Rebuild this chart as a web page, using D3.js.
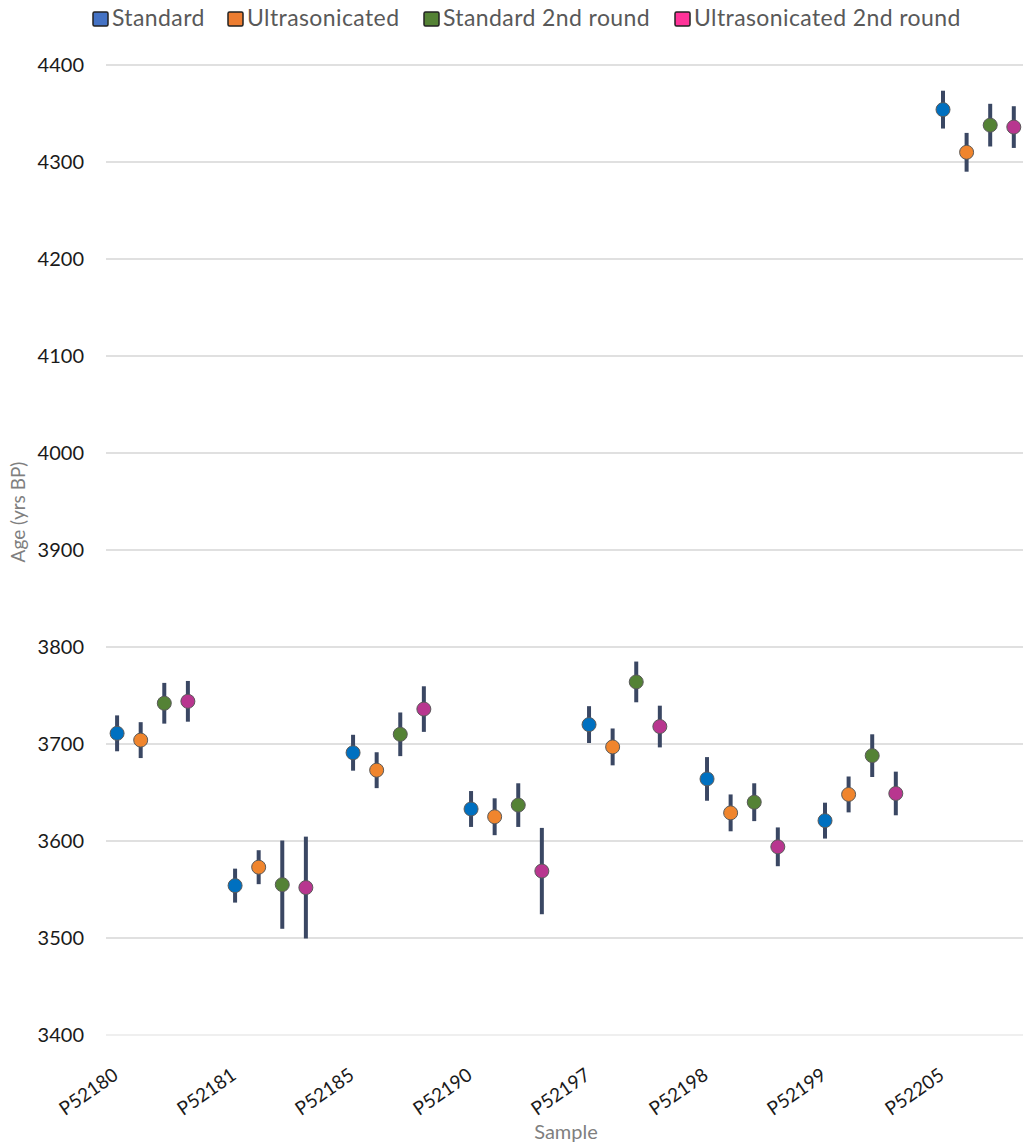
<!DOCTYPE html>
<html>
<head>
<meta charset="utf-8">
<script src="https://cdn.jsdelivr.net/npm/d3@7"></script>
<style>
  body { margin: 0; background: #fff; }
  svg { display: block; font-family: Lato, "Open Sans", sans-serif; }
</style>
</head>
<body>
<div id="chart"></div>
<script>
// data
const samples = ['P52180', 'P52181', 'P52185', 'P52190', 'P52197', 'P52198', 'P52199', 'P52205'];
const seriesNames = ['Standard', 'Ultrasonicated', 'Standard 2nd round', 'Ultrasonicated 2nd round'];

const standard = [3711, 3554, 3691, 3633, 3720, 3664, 3621, 4354];
const ultrasonicated = [3704, 3573, 3673, 3625, 3697, 3629, 3648, 4310];
const standard2 = [3742, 3555, 3710, 3637, 3764, 3640, 3688, 4338];
const ultrasonicated2 = [3744, 3552, 3736, 3569, 3718, 3594, 3649, 4336];

const standardErr = [18.5, 17.5, 18.5, 18.5, 19, 22.5, 18.5, 19.5];
const ultrasonicatedErr = [18.5, 17.5, 18.5, 19, 19, 19, 18.5, 20];
const standard2Err = [21, 45.5, 22.5, 22.5, 21, 19.5, 22, 22];
const ultrasonicated2Err = [21, 52.5, 23.5, 44.5, 21.5, 20, 22.5, 21.5];

const yTicks = [3400, 3500, 3600, 3700, 3800, 3900, 4000, 4100, 4200, 4300, 4400];

const markerColors = ['#0070C0', '#F0852D', '#548235', '#B8368F'];
const legendColors = ['#4472C4', '#ED7D31', '#548235', '#FF3399'];

const values = [standard, ultrasonicated, standard2, ultrasonicated2];
const errors = [standardErr, ultrasonicatedErr, standard2Err, ultrasonicated2Err];

const boxWidth = 1023;
const boxHeight = 1142;
const margin = { top: 65, right: 0, bottom: 107, left: 106 };

const svg = d3.select('#chart')
  .append('svg')
  .attr('width', boxWidth)
  .attr('height', boxHeight);

// each sample gets 5 slots: 4 series + a gap
const slots = 5;
const xScale = d3.scaleLinear()
  .domain([-0.47, 38.39])
  .range([margin.left, boxWidth - margin.right]);

const yScale = d3.scaleLinear()
  .domain([3400, 4400])
  .range([boxHeight - margin.bottom, margin.top]);

// gridlines
svg.append('g')
  .selectAll('line')
  .data(yTicks)
  .enter()
  .append('line')
  .attr('x1', margin.left)
  .attr('x2', boxWidth - margin.right)
  .attr('y1', d => yScale(d))
  .attr('y2', d => yScale(d))
  .attr('stroke', d => d === 3400 ? '#efefef' : '#e0e0e0')
  .attr('stroke-width', 2);

// y axis labels
const yAxis = d3.axisLeft(yScale)
  .tickValues(yTicks)
  .tickFormat(d3.format('d'))
  .tickSize(0)
  .tickPadding(22);

const yAxisGroup = svg.append('g')
  .attr('transform', `translate(${margin.left}, 0)`)
  .call(yAxis);
yAxisGroup.select('.domain').remove();
yAxisGroup.selectAll('text')
  .attr('fill', '#1a1a1a')
  .style('font-size', '20px')
  .style('font-family', 'Lato, sans-serif');

// x axis labels
const xAxis = d3.axisBottom(xScale)
  .tickValues(samples.map((d, i) => i * slots))
  .tickFormat((d, i) => samples[i])
  .tickSize(0);

const xAxisGroup = svg.append('g')
  .attr('transform', `translate(0, ${yScale(3400)})`)
  .call(xAxis);
xAxisGroup.select('.domain').remove();
xAxisGroup.selectAll('text')
  .attr('text-anchor', 'end')
  .attr('dy', 0)
  .attr('y', 0)
  .attr('transform', 'translate(2, 43) rotate(-35)')
  .attr('fill', '#1a1a1a')
  .style('font-size', '19px')
  .style('font-family', 'Lato, sans-serif');

// axis titles
svg.append('text')
  .attr('x', 566)
  .attr('y', 1139)
  .attr('text-anchor', 'middle')
  .attr('fill', '#7f7f7f')
  .style('font-size', '20px')
  .text('Sample');

svg.append('text')
  .attr('transform', 'translate(25, 512) rotate(-90)')
  .attr('text-anchor', 'middle')
  .attr('fill', '#7f7f7f')
  .style('font-size', '19px')
  .text('Age (yrs BP)');

// points + error bars
seriesNames.forEach((name, s) => {
  const pts = samples.map((d, i) => ({
    x: i * slots + s,
    v: values[s][i],
    e: errors[s][i]
  }));
  const g = svg.append('g');

  g.selectAll('line')
    .data(pts)
    .enter()
    .append('line')
    .attr('x1', d => xScale(d.x))
    .attr('x2', d => xScale(d.x))
    .attr('y1', d => yScale(d.v - d.e))
    .attr('y2', d => yScale(d.v + d.e))
    .attr('stroke', '#3a4763')
    .attr('stroke-width', 4);

  g.selectAll('circle')
    .data(pts)
    .enter()
    .append('circle')
    .attr('cx', d => xScale(d.x))
    .attr('cy', d => yScale(d.v))
    .attr('r', 7)
    .attr('fill', markerColors[s])
    .attr('stroke', '#5a5a5a')
    .attr('stroke-width', 1);
});

// legend
const legendX = [93, 228, 424, 675];
const legend = svg.append('g');
seriesNames.forEach((name, s) => {
  legend.append('rect')
    .attr('x', legendX[s])
    .attr('y', 12)
    .attr('width', 15)
    .attr('height', 14)
    .attr('rx', 1.5)
    .attr('fill', legendColors[s])
    .attr('stroke', '#222')
    .attr('stroke-width', 1.5);
  legend.append('text')
    .attr('x', legendX[s] + 19)
    .attr('y', 26)
    .attr('fill', '#595959')
    .style('font-size', '23px')
    .style('letter-spacing', '0.4px')
    .text(name);
});
</script>
</body>
</html>
